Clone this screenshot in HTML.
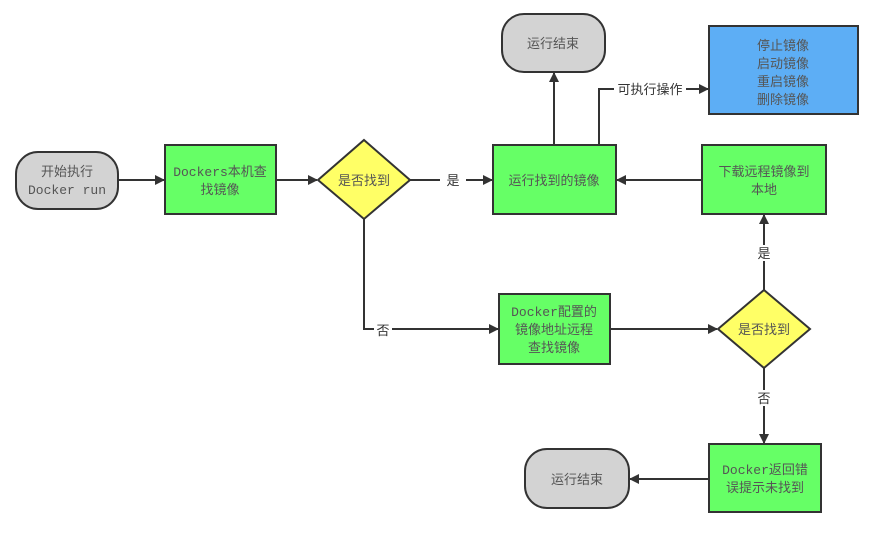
<!DOCTYPE html>
<html><head><meta charset="utf-8"><style>
body{margin:0;background:#fff;width:891px;height:540px;overflow:hidden}
</style></head><body>
<svg width="891" height="540" xmlns="http://www.w3.org/2000/svg" font-family="'Liberation Mono','Noto Sans CJK SC',monospace" font-size="13">
<defs><marker id="a" markerWidth="10" markerHeight="10" refX="9" refY="5" orient="auto" markerUnits="userSpaceOnUse"><path d="M0,0 L10,5 L0,10 z" fill="#333"/></marker></defs>
<g stroke="#333" stroke-width="2" fill="none">
<line x1="118" y1="180" x2="164" y2="180" marker-end="url(#a)"/>
<line x1="276" y1="180" x2="317" y2="180" marker-end="url(#a)"/>
<line x1="410" y1="180" x2="492" y2="180" marker-end="url(#a)"/>
<polyline points="364,219 364,329 498,329" marker-end="url(#a)"/>
<line x1="610" y1="329" x2="717" y2="329" marker-end="url(#a)"/>
<line x1="764" y1="290" x2="764" y2="215" marker-end="url(#a)"/>
<line x1="764" y1="368" x2="764" y2="443" marker-end="url(#a)"/>
<line x1="709" y1="479" x2="630" y2="479" marker-end="url(#a)"/>
<line x1="702" y1="180" x2="617" y2="180" marker-end="url(#a)"/>
<line x1="554" y1="145" x2="554" y2="73" marker-end="url(#a)"/>
<polyline points="599,145 599,89 708,89" marker-end="url(#a)"/>
</g>
<g font-family="'Liberation Sans','Noto Sans CJK SC',sans-serif" font-size="13" fill="#333" text-anchor="middle">
<rect x="440" y="172" width="26" height="16" fill="#fff"/><text x="453" y="185">是</text>
<rect x="374" y="322" width="18" height="16" fill="#fff"/><text x="383" y="335">否</text>
<rect x="755" y="245" width="18" height="16" fill="#fff"/><text x="764" y="258">是</text>
<rect x="755" y="390" width="18" height="16" fill="#fff"/><text x="764" y="403">否</text>
<rect x="614" y="81" width="72" height="16" fill="#fff"/><text x="650" y="94">可执行操作</text>
</g>
<g stroke="#333" stroke-width="2">
<rect x="16" y="152" width="102" height="57" rx="22" fill="#d3d3d3"/>
<rect x="165" y="145" width="111" height="69" fill="#66ff66"/>
<polygon points="364,140 410,180 364,219 318,180" fill="#ffff66"/>
<rect x="493" y="145" width="123" height="69" fill="#66ff66"/>
<rect x="502" y="14" width="103" height="58" rx="22" fill="#d3d3d3"/>
<rect x="709" y="26" width="149" height="88" fill="#5daef5"/>
<rect x="702" y="145" width="124" height="69" fill="#66ff66"/>
<rect x="499" y="294" width="111" height="70" fill="#66ff66"/>
<polygon points="764,290 810,329 764,368 718,329" fill="#ffff66"/>
<rect x="709" y="444" width="112" height="68" fill="#66ff66"/>
<rect x="525" y="449" width="104" height="59" rx="22" fill="#d3d3d3"/>
</g>
<g fill="#555" text-anchor="middle">
<text x="67" y="176">开始执行</text><text x="67" y="194">Docker run</text>
<text x="220" y="176">Dockers本机查</text><text x="220" y="194">找镜像</text>
<text x="364" y="185">是否找到</text>
<text x="554" y="185">运行找到的镜像</text>
<text x="553" y="48">运行结束</text>
<text x="783" y="50">停止镜像</text><text x="783" y="68">启动镜像</text><text x="783" y="86">重启镜像</text><text x="783" y="104">删除镜像</text>
<text x="764" y="176">下载远程镜像到</text><text x="764" y="194">本地</text>
<text x="554" y="316">Docker配置的</text><text x="554" y="334">镜像地址远程</text><text x="554" y="352">查找镜像</text>
<text x="764" y="334">是否找到</text>
<text x="765" y="474">Docker返回错</text><text x="765" y="492">误提示未找到</text>
<text x="577" y="484">运行结束</text>
</g>
</svg>
</body></html>
